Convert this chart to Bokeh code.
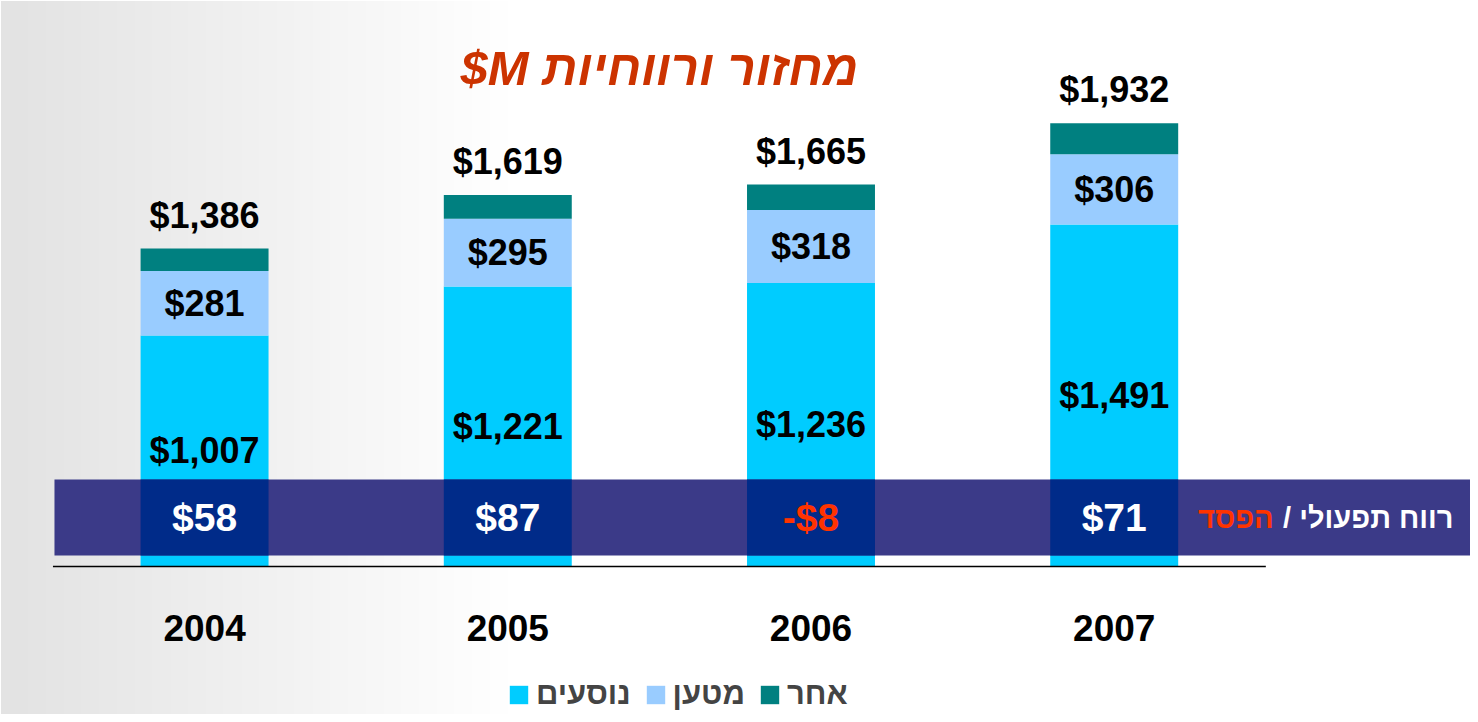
from bokeh.plotting import figure
from bokeh.models import Range1d, ColumnDataSource, Legend, LegendItem, Label, BoxAnnotation
from bokeh.core.properties import value
from bokeh.embed import file_html
from bokeh.resources import INLINE

# ---- data ----
YEARS = ["2004", "2005", "2006", "2007"]
PASSENGERS = [1007, 1221, 1236, 1491]
CARGO = [281, 295, 318, 306]
TOTALS = [1386, 1619, 1665, 1932]
OTHER = [t - p - c for t, p, c in zip(TOTALS, PASSENGERS, CARGO)]
OP_PROFIT = [58, 87, -8, 71]

SERIES_LABELS = ["נוסעים", "מטען", "אחר"]
SERIES_COLORS = ["#00CCFF", "#99CCFF", "#008080"]
TITLE = "$M מחזור ורווחיות"

FONT = "Liberation Sans"

X = list(range(len(YEARS)))
BAR_W = 0.422

p = figure(width=1470, height=714, x_range=Range1d(-0.673, 4.175),
           y_range=Range1d(-645, 2467), output_backend="svg",
           toolbar_location=None, min_border=0)
p.axis.visible = False
p.grid.visible = False
p.outline_line_color = None
p.background_fill_color = "white"
p.border_fill_color = "white"

# soft bluish wash on the left side of the slide (smooth gradient)
N_WASH = 28
for i in range(N_WASH):
    r = -0.64 + (1.0 + 0.64) * (i + 1) / N_WASH
    p.add_layout(BoxAnnotation(right=r, fill_color="#8EA8CC", fill_alpha=0.011,
                               line_color=None, level="underlay"))

src = ColumnDataSource(dict(
    x=X, years=YEARS, passengers=PASSENGERS, cargo=CARGO, other=OTHER,
    totals=TOTALS,
    tot_lbl=[f"${v:,}" for v in TOTALS],
    pas_lbl=[f"${v:,}" for v in PASSENGERS],
    car_lbl=[f"${v:,}" for v in CARGO],
    pas_y=[v / 2 for v in PASSENGERS],
    car_y=[pv + cv / 2 for pv, cv in zip(PASSENGERS, CARGO)],
))

rs = p.vbar_stack(["passengers", "cargo", "other"], x="x", width=BAR_W,
                  color=SERIES_COLORS, line_color=None, source=src)

# operating profit band
BAND_BOTTOM, BAND_TOP = 48, 379
p.quad(left=-0.495, right=4.3, bottom=BAND_BOTTOM, top=BAND_TOP,
       fill_color="#3B3A88", line_color=None)
p.vbar(x=X, width=BAR_W, bottom=BAND_BOTTOM, top=BAND_TOP,
       fill_color="#002B89", line_color=None)

op_src = ColumnDataSource(dict(
    x=X, y=[(BAND_BOTTOM + BAND_TOP) / 2] * len(X),
    lbl=[(f"${v}" if v >= 0 else f"-${abs(v)}") for v in OP_PROFIT],
    col=["white" if v >= 0 else "#FF3300" for v in OP_PROFIT],
))
p.text(x="x", y="y", text="lbl", text_color="col", source=op_src,
       text_font=value(FONT), text_font_style="bold", text_font_size="39px",
       text_align="center", text_baseline="middle")

# baseline
p.segment(x0=[-0.5], y0=[0], x1=[3.5], y1=[0], line_color="black", line_width=1.5)

# value labels
common = dict(text_font=value(FONT), text_font_style="bold",
              text_font_size="36px", text_align="center", text_color="black",
              source=src)
p.text(x="x", y="totals", text="tot_lbl", text_baseline="bottom", y_offset=-13, **common)
p.text(x="x", y="car_y", text="car_lbl", text_baseline="middle", **common)
p.text(x="x", y="pas_y", text="pas_lbl", text_baseline="middle", **common)

# year labels
p.text(x="x", y=-270, text="years", source=src, text_font=value(FONT),
       text_font_style="bold", text_font_size="37px", text_align="center",
       text_baseline="middle", text_color="black")

# title
p.add_layout(Label(x=1.5, y=2171, text=TITLE, text_font=FONT,
                   text_font_style="bold italic", text_font_size="49px",
                   text_color="#CC3300", text_align="center",
                   text_baseline="middle"))

# band caption
band_mid = (BAND_BOTTOM + BAND_TOP) / 2
p.add_layout(Label(x=4.119, y=band_mid, text="/ רווח תפעולי", text_font=FONT,
                   text_font_style="bold", text_font_size="29px",
                   text_color="white", text_align="right", text_baseline="middle"))
p.add_layout(Label(x=3.526, y=band_mid, text="הפסד", text_font=FONT,
                   text_font_style="bold", text_font_size="29px",
                   text_color="#FF3300", text_align="right", text_baseline="middle"))

# legend
legend = Legend(items=[LegendItem(label=l, renderers=[r]) for l, r in zip(SERIES_LABELS, rs)],
                orientation="horizontal", location=(507, 2),
                glyph_width=23, glyph_height=23, label_height=23,
                label_text_font=FONT, label_text_font_style="bold",
                label_text_font_size="31px", label_standoff=6, spacing=13,
                padding=0, margin=0, border_line_alpha=0,
                background_fill_alpha=0)
p.add_layout(legend, "center")

open("out.html", "w").write(file_html(p, INLINE))
